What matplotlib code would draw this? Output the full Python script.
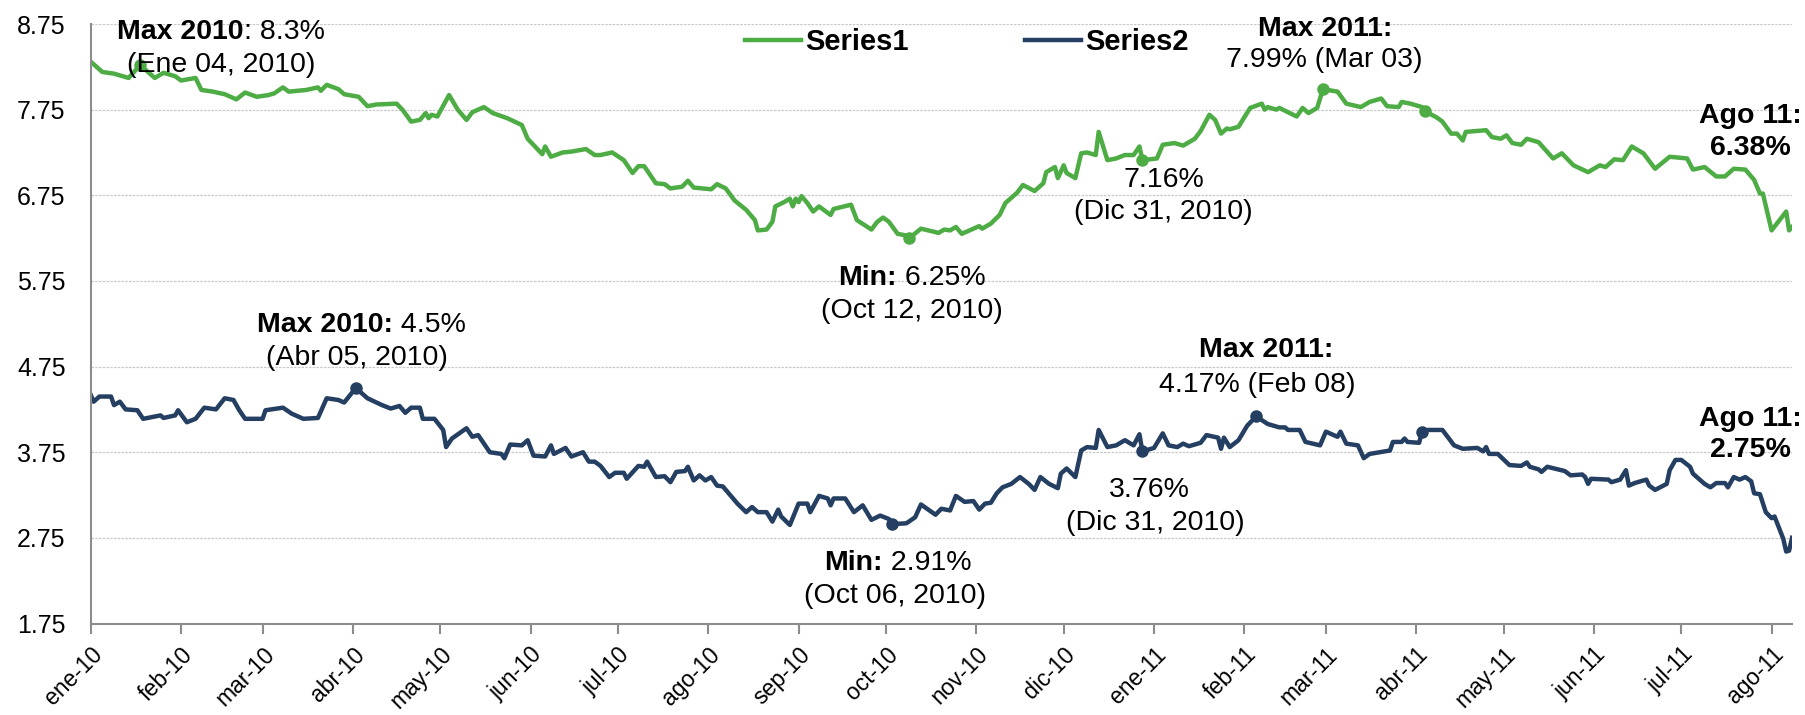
import numpy as np
import pandas as pd
import matplotlib
matplotlib.use("Agg")
import matplotlib.pyplot as plt

plt.rcParams["font.family"] = ["Liberation Sans", "DejaVu Sans"]

# dates are stored as days counted from the first observation
start = "2010-01-04"

s1_days = [0, 4, 8, 13, 17, 22, 25, 29, 31, 36, 38, 42, 46, 50, 53, 57, 61, 63, 66, 68,
           74, 78, 79, 81, 85, 87, 92, 95, 98, 105, 107, 110, 113, 115, 116, 117, 119, 123, 126, 129,
           131, 135, 138, 143, 148, 150, 155, 156, 158, 162, 165, 170, 173, 175, 179, 183, 186, 188, 190, 194,
           197, 199, 203, 205, 207, 213, 215, 218, 221, 225, 228, 229, 232, 234, 235, 238, 240, 241, 242, 243,
           244, 246, 248, 250, 254, 255, 261, 263, 268, 270, 272, 274, 277, 280, 281, 285, 290, 291, 293, 295,
           297, 299, 305, 306, 309, 312, 314, 318, 320, 324, 327, 328, 331, 332, 334, 335, 338, 340, 342, 345,
           346, 349, 352, 355, 358, 360, 361, 366, 368, 372, 375, 379, 381, 384, 386, 388, 390, 391, 394, 398,
           402, 403, 404, 407, 408, 414, 416, 418, 421, 423, 428, 431, 436, 439, 443, 445, 449, 450, 453, 457,
           458, 462, 464, 467, 469, 471, 472, 479, 481, 484, 486, 488, 491, 493, 497, 502, 505, 509, 514, 518,
           520, 523, 526, 529, 533, 537, 542, 548, 550, 554, 558, 561, 564, 568, 571, 573, 574, 577, 582, 583,
           584]
s1_vals = [8.31, 8.19, 8.17, 8.12, 8.27, 8.12, 8.18, 8.14, 8.09, 8.12, 7.98, 7.96, 7.93, 7.87, 7.95, 7.90, 7.92, 7.94, 8.01, 7.96,
           7.98, 8.01, 7.97, 8.04, 7.99, 7.93, 7.90, 7.79, 7.81, 7.82, 7.75, 7.61, 7.63, 7.71, 7.65, 7.69, 7.67, 7.92, 7.75, 7.63,
           7.72, 7.78, 7.71, 7.65, 7.57, 7.41, 7.23, 7.32, 7.20, 7.25, 7.26, 7.29, 7.22, 7.22, 7.25, 7.16, 7.01, 7.09, 7.09, 6.89,
           6.88, 6.83, 6.85, 6.92, 6.84, 6.82, 6.88, 6.83, 6.69, 6.58, 6.46, 6.34, 6.35, 6.44, 6.62, 6.67, 6.71, 6.62, 6.71, 6.67,
           6.74, 6.66, 6.56, 6.62, 6.52, 6.59, 6.64, 6.46, 6.35, 6.44, 6.49, 6.44, 6.30, 6.28, 6.25, 6.36, 6.32, 6.31, 6.35, 6.34,
           6.38, 6.30, 6.39, 6.36, 6.42, 6.52, 6.66, 6.78, 6.87, 6.80, 6.89, 7.02, 7.08, 6.95, 7.10, 7.01, 6.95, 7.24, 7.25, 7.22,
           7.49, 7.16, 7.18, 7.22, 7.22, 7.32, 7.16, 7.18, 7.34, 7.36, 7.33, 7.41, 7.50, 7.69, 7.63, 7.47, 7.53, 7.52, 7.55, 7.77,
           7.82, 7.75, 7.78, 7.75, 7.77, 7.67, 7.77, 7.71, 7.77, 7.99, 7.96, 7.82, 7.78, 7.84, 7.88, 7.79, 7.78, 7.84, 7.82, 7.78,
           7.73, 7.66, 7.61, 7.47, 7.47, 7.39, 7.49, 7.51, 7.43, 7.41, 7.45, 7.36, 7.34, 7.41, 7.37, 7.18, 7.24, 7.10, 7.02, 7.10,
           7.08, 7.17, 7.16, 7.32, 7.24, 7.06, 7.20, 7.18, 7.05, 7.08, 6.97, 6.97, 7.06, 7.05, 6.93, 6.77, 6.77, 6.34, 6.56, 6.34,
           6.38]

s2_days = [0, 1, 3, 7, 8, 10, 12, 16, 18, 24, 25, 29, 30, 33, 36, 39, 43, 46, 49, 51,
           53, 59, 60, 66, 69, 73, 78, 81, 85, 87, 91, 95, 100, 103, 106, 108, 110, 113, 114, 118,
           121, 122, 124, 129, 131, 133, 137, 141, 142, 144, 148, 150, 152, 156, 158, 159, 163, 165, 169, 171,
           173, 175, 178, 180, 183, 184, 188, 190, 191, 194, 197, 199, 201, 204, 205, 207, 209, 211, 213, 215,
           217, 220, 222, 225, 227, 229, 232, 234, 236, 237, 240, 243, 246, 247, 250, 253, 254, 255, 259, 262,
           265, 268, 271, 274, 275, 280, 283, 285, 290, 292, 295, 297, 300, 303, 305, 307, 309, 311, 313, 316,
           319, 322, 324, 326, 329, 332, 333, 335, 338, 340, 342, 345, 346, 349, 352, 355, 358, 360, 361, 365,
           368, 370, 373, 375, 377, 381, 383, 387, 388, 389, 391, 394, 397, 399, 400, 404, 408, 410, 411, 415,
           417, 422, 424, 428, 429, 431, 435, 437, 439, 446, 447, 450, 451, 452, 456, 457, 459, 464, 466, 468,
           471, 476, 478, 479, 480, 483, 487, 491, 493, 494, 497, 498, 500, 506, 508, 512, 513, 514, 515, 521,
           522, 525, 527, 528, 530, 534, 535, 537, 541, 542, 544, 546, 549, 550, 554, 556, 558, 561, 562, 564,
           566, 568, 570, 571, 573, 575, 577, 578, 581, 582, 583, 584]
s2_vals = [4.42, 4.34, 4.40, 4.40, 4.30, 4.34, 4.25, 4.24, 4.14, 4.18, 4.15, 4.18, 4.24, 4.10, 4.14, 4.27, 4.25, 4.38, 4.36, 4.24,
           4.14, 4.14, 4.24, 4.27, 4.20, 4.14, 4.15, 4.38, 4.36, 4.33, 4.50, 4.38, 4.30, 4.26, 4.29, 4.21, 4.27, 4.27, 4.14, 4.14,
           4.01, 3.81, 3.91, 4.03, 3.93, 3.95, 3.75, 3.73, 3.68, 3.84, 3.83, 3.89, 3.71, 3.70, 3.83, 3.73, 3.80, 3.70, 3.75, 3.64,
           3.64, 3.59, 3.46, 3.51, 3.51, 3.44, 3.59, 3.58, 3.64, 3.46, 3.47, 3.40, 3.52, 3.53, 3.58, 3.42, 3.48, 3.42, 3.46, 3.36,
           3.35, 3.23, 3.15, 3.05, 3.11, 3.05, 3.05, 2.94, 3.08, 3.00, 2.90, 3.15, 3.15, 3.05, 3.24, 3.21, 3.13, 3.21, 3.21, 3.05,
           3.13, 2.96, 3.01, 2.97, 2.91, 2.92, 2.99, 3.14, 3.02, 3.09, 3.07, 3.24, 3.17, 3.18, 3.08, 3.15, 3.16, 3.27, 3.34, 3.38,
           3.46, 3.38, 3.31, 3.46, 3.38, 3.33, 3.50, 3.56, 3.46, 3.77, 3.81, 3.80, 4.01, 3.81, 3.83, 3.89, 3.83, 3.96, 3.76, 3.80,
           3.97, 3.83, 3.81, 3.85, 3.82, 3.86, 3.95, 3.92, 3.79, 3.92, 3.81, 3.89, 4.06, 4.13, 4.17, 4.08, 4.04, 4.04, 4.01, 4.01,
           3.87, 3.83, 3.99, 3.93, 3.99, 3.85, 3.83, 3.68, 3.73, 3.77, 3.87, 3.87, 3.91, 3.87, 3.86, 3.99, 4.01, 4.01, 3.92, 3.83,
           3.79, 3.80, 3.76, 3.81, 3.73, 3.73, 3.60, 3.59, 3.63, 3.58, 3.55, 3.52, 3.58, 3.53, 3.48, 3.49, 3.46, 3.38, 3.44, 3.43,
           3.40, 3.43, 3.54, 3.36, 3.39, 3.43, 3.36, 3.31, 3.38, 3.54, 3.66, 3.66, 3.58, 3.50, 3.38, 3.34, 3.39, 3.39, 3.34, 3.46,
           3.43, 3.46, 3.41, 3.27, 3.26, 3.05, 2.98, 3.00, 2.74, 2.59, 2.60, 2.75]

# highlighted points
s1_mark_days = [17, 281, 361, 423, 458]
s1_mark_vals = [8.27, 6.25, 7.16, 7.99, 7.73]
s2_mark_days = [91, 275, 361, 400, 457]
s2_mark_vals = [4.50, 2.91, 3.76, 4.17, 3.99]

tick_dates = pd.date_range("2010-01-01", "2011-08-01", freq="MS") + pd.Timedelta(days=3)
tick_labels = ["ene-10", "feb-10", "mar-10", "abr-10", "may-10", "jun-10", "jul-10", "ago-10",
               "sep-10", "oct-10", "nov-10", "dic-10", "ene-11", "feb-11", "mar-11", "abr-11",
               "may-11", "jun-11", "jul-11", "ago-11"]
y_ticks = [1.75, 2.75, 3.75, 4.75, 5.75, 6.75, 7.75, 8.75]

green = "#4EAC45"
navy = "#253F62"

t0 = pd.Timestamp(start)
def to_dates(days):
    return t0 + pd.to_timedelta(days, unit="D")

W, H = 1806, 715
fig = plt.figure(figsize=(W / 100, H / 100), dpi=100)
ax = fig.add_axes([90.7 / W, 1 - 623.5 / H, (1792 - 90.7) / W, (623.5 - 24) / H])

ax.plot(to_dates(s1_days), s1_vals, color=green, lw=3.2, label="Series1", solid_joinstyle="round")
ax.plot(to_dates(s2_days), s2_vals, color=navy, lw=3.2, label="Series2", solid_joinstyle="round")
ax.plot(to_dates(s1_mark_days), s1_mark_vals, "o", color=green, ms=8)
ax.plot(to_dates(s2_mark_days), s2_mark_vals, "o", color=navy, ms=8)

ax.set_xlim(to_dates([0])[0], to_dates([584])[0])
ax.set_ylim(1.75, 8.75)
ax.set_yticks(y_ticks)
ax.set_yticklabels(["%.2f" % v for v in y_ticks], fontsize=18)
ax.set_xticks(tick_dates)
ax.set_xticklabels(tick_labels, rotation=45, ha="right", rotation_mode="anchor", fontsize=16.5)
ax.tick_params(axis="y", length=0, pad=18)
ax.tick_params(axis="x", length=7, width=1.5, color="#8c8c8c", pad=7)
ax.grid(axis="y", color="#c8c8c8", lw=0.9, ls=(0, (2, 1)))
ax.set_axisbelow(True)
for s in ["top", "right"]:
    ax.spines[s].set_visible(False)
for s in ["left", "bottom"]:
    ax.spines[s].set_color("#8c8c8c")
    ax.spines[s].set_linewidth(1.5)

fig.legend(loc="center", bbox_to_anchor=(967 / W, 1 - 42 / H), ncol=2, frameon=False,
           prop={"weight": "bold", "size": 21}, handlelength=1.9, handletextpad=0.15,
           columnspacing=4.0)

# annotation lines: list of (text, weight) pieces, x centre (px), baseline (px)
notes = [
    ([("Max 2010", "bold"), (": 8.3%", "normal")], 221, 39),
    ([("(Ene 04, 2010)", "normal")], 221, 72),
    ([("Min:", "bold"), (" 6.25%", "normal")], 912, 285),
    ([("(Oct 12, 2010)", "normal")], 912, 318),
    ([("7.16%", "normal")], 1164, 187),
    ([("(Dic 31, 2010)", "normal")], 1163, 219),
    ([("Max 2011:", "bold")], 1325, 36),
    ([("7.99% (Mar 03)", "normal")], 1324, 67),
    ([("Ago 11:", "bold")], 1750, 123),
    ([("6.38%", "bold")], 1750, 155),
    ([("Max 2010:", "bold"), (" 4.5%", "normal")], 361, 332),
    ([("(Abr 05, 2010)", "normal")], 357, 365),
    ([("Min:", "bold"), (" 2.91%", "normal")], 898, 570),
    ([("(Oct 06, 2010)", "normal")], 895, 603),
    ([("3.76%", "normal")], 1149, 497),
    ([("(Dic 31, 2010)", "normal")], 1155, 530),
    ([("Max 2011:", "bold")], 1266, 357),
    ([("4.17% (Feb 08)", "normal")], 1257, 392),
    ([("Ago 11:", "bold")], 1750, 426),
    ([("2.75%", "bold")], 1750, 457),
]
renderer = fig.canvas.get_renderer()
for parts, xc, yb in notes:
    objs = [fig.text(0, 1 - yb / H, t, ha="left", va="baseline", fontsize=20.5, fontweight=w)
            for t, w in parts]
    widths = [o.get_window_extent(renderer).width for o in objs]
    x = xc - sum(widths) / 2
    for o, w in zip(objs, widths):
        o.set_x(x / W)
        x += w

fig.savefig("out.png", dpi=100, facecolor="white")
